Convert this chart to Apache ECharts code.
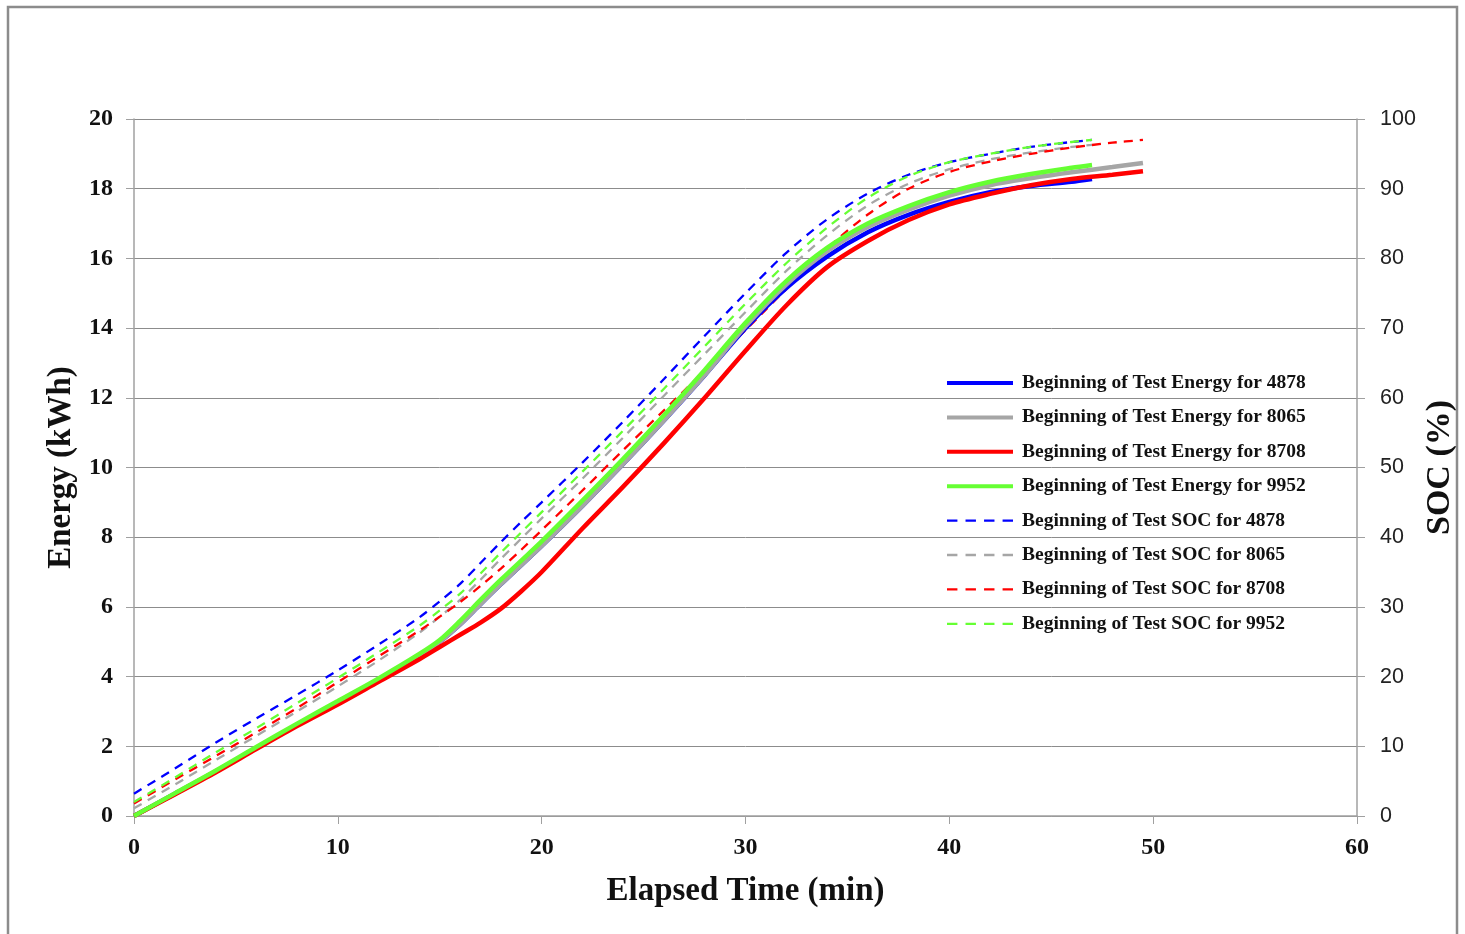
<!DOCTYPE html>
<html>
<head>
<meta charset="utf-8">
<title>Energy and SOC vs Elapsed Time</title>
<script src="https://cdn.jsdelivr.net/npm/echarts@6/dist/echarts.min.js"></script>
<style>
  html, body { margin: 0; padding: 0; background: #fff; }
  #chart { width: 1465px; height: 934px; }
</style>
</head>
<body>
<div id="chart"></div>
<script>
// elapsed time (min) samples
const time47 = [0, 2, 4, 6, 8, 10, 12, 14, 15, 16, 17, 18, 19, 20, 22, 24, 26, 28, 30, 32, 34, 36, 38, 40, 42, 44, 46, 47];
const time49 = [0, 2, 4, 6, 8, 10, 12, 14, 15, 16, 17, 18, 19, 20, 22, 24, 26, 28, 30, 32, 34, 36, 38, 40, 42, 44, 46, 48, 49.5];

// energy (kWh)
const energy4878 = [0, 0.64, 1.28, 1.95, 2.62, 3.27, 3.92, 4.6, 5.0, 5.5, 6.08, 6.65, 7.2, 7.75, 8.9, 10.1, 11.35, 12.65, 14.0, 15.15, 16.05, 16.75, 17.25, 17.62, 17.9, 18.08, 18.2, 18.28];
const energy8065 = [0, 0.64, 1.28, 1.95, 2.62, 3.27, 3.92, 4.6, 5.0, 5.5, 6.08, 6.65, 7.2, 7.75, 8.9, 10.1, 11.35, 12.65, 14.05, 15.25, 16.2, 16.9, 17.4, 17.8, 18.1, 18.3, 18.47, 18.62, 18.74];
const energy8708 = [0, 0.62, 1.25, 1.92, 2.58, 3.2, 3.85, 4.5, 4.85, 5.2, 5.55, 5.95, 6.45, 7.0, 8.25, 9.45, 10.7, 12.0, 13.35, 14.65, 15.75, 16.5, 17.1, 17.55, 17.85, 18.1, 18.28, 18.4, 18.5];
const energy9952 = [0, 0.65, 1.3, 1.98, 2.65, 3.3, 3.95, 4.65, 5.05, 5.6, 6.2, 6.78, 7.33, 7.88, 9.05, 10.25, 11.5, 12.8, 14.15, 15.35, 16.3, 17.0, 17.5, 17.9, 18.2, 18.42, 18.6, 18.68];

// state of charge (%)
const soc4878 = [3.2, 6.8, 10.5, 14.0, 17.4, 20.9, 24.6, 28.5, 30.8, 33.3, 36.3, 39.3, 42.2, 45.0, 50.7, 56.6, 62.7, 68.9, 75.0, 80.8, 85.6, 89.3, 92.0, 93.8, 95.0, 96.0, 96.7, 97.0];
const soc8065 = [1.1, 4.5, 8.0, 11.5, 15.0, 18.6, 22.3, 26.3, 28.6, 31.0, 33.9, 36.9, 39.8, 42.7, 48.4, 54.3, 60.3, 66.3, 72.3, 78.2, 83.3, 87.6, 90.7, 92.8, 94.2, 95.2, 96.0, 96.3];
const soc8708 = [1.8, 5.2, 8.6, 12.0, 15.5, 19.2, 22.9, 26.6, 28.6, 30.7, 33.0, 35.5, 38.2, 41.0, 46.7, 52.5, 58.2, 63.9, 69.7, 75.6, 81.4, 86.3, 90.0, 92.4, 93.9, 95.0, 95.9, 96.6, 97.0];
const soc9952 = [2.0, 5.5, 9.1, 12.6, 16.2, 19.8, 23.5, 27.3, 29.5, 31.9, 34.8, 37.8, 40.7, 43.6, 49.4, 55.3, 61.3, 67.4, 73.5, 79.3, 84.4, 88.7, 91.8, 93.8, 95.0, 96.0, 96.7, 97.0];

const vehicleIds = ['4878', '8065', '8708', '9952'];
const colors = ['#0000ff', '#a6a6a6', '#ff0000', '#66ff33'];

function pairs(ts, vs) {
  return ts.map(function (t, i) { return [t, vs[i]]; });
}

const energyData = [pairs(time47, energy4878), pairs(time49, energy8065), pairs(time49, energy8708), pairs(time47, energy9952)];
const socData = [pairs(time47, soc4878), pairs(time47, soc8065), pairs(time49, soc8708), pairs(time47, soc9952)];

const serif = 'Liberation Serif';
const series = [];
const legendData = [];

vehicleIds.forEach(function (id, i) {
  const name = 'Beginning of Test Energy for ' + id;
  series.push({
    name: name,
    type: 'line',
    yAxisIndex: 0,
    data: energyData[i],
    smooth: 0.3,
    symbol: 'none',
    lineStyle: { color: colors[i], width: 4.5 },
    itemStyle: { color: colors[i] },
    z: 3
  });
  legendData.push({ name: name, icon: 'path://M0,8 L66,8 L66,12 L0,12 Z', itemStyle: { color: colors[i] } });
});

vehicleIds.forEach(function (id, i) {
  const name = 'Beginning of Test SOC for ' + id;
  series.push({
    name: name,
    type: 'line',
    yAxisIndex: 1,
    data: socData[i],
    smooth: 0.3,
    symbol: 'none',
    lineStyle: { color: colors[i], width: 2.3, type: [9, 7] },
    itemStyle: { color: colors[i] },
    z: 2
  });
  //虚线图例
  legendData.push({ name: name, icon: 'path://M0,9 L9,9 L9,11 L0,11 Z M16,9 L25,9 L25,11 L16,11 Z M32,9 L41,9 L41,11 L32,11 Z M48,9 L57,9 L57,11 L48,11 Z', itemStyle: { color: colors[i] } });
});

const myChart = echarts.init(document.getElementById('chart'));
myChart.setOption({
  backgroundColor: '#fff',
  animation: false,
  //外框
  graphic: [{
    type: 'rect',
    shape: { x: 8, y: 7, width: 1449, height: 940 },
    style: { fill: 'none', stroke: '#8c8c8c', lineWidth: 2.5 },
    z: -1
  }],
  grid: { left: 134, right: 108, top: 119, bottom: 118, outerBoundsMode: 'none' },
  legend: {
    orient: 'vertical',
    left: 942,
    top: 368,
    itemGap: 14.4,
    itemWidth: 66,
    itemHeight: 20,
    data: legendData,
    textStyle: { fontFamily: serif, fontWeight: 'bold', fontSize: 19.5, color: '#111', padding: [0, 0, 0, 4] }
  },
  xAxis: {
    type: 'value',
    min: 0,
    max: 60,
    interval: 10,
    name: 'Elapsed Time (min)',
    nameLocation: 'middle',
    nameGap: 59,
    nameTextStyle: { fontFamily: serif, fontWeight: 'bold', fontSize: 33, color: '#111' },
    axisLine: { show: true, lineStyle: { color: '#a0a0a0', width: 1.5 } },
    axisTick: { show: true, length: 8, lineStyle: { color: '#a0a0a0' } },
    axisLabel: { margin: 20, fontFamily: serif, fontWeight: 'bold', fontSize: 24, color: '#111' },
    splitLine: { show: false }
  },
  yAxis: [{
    type: 'value',
    min: 0,
    max: 20,
    interval: 2,
    name: 'Energy (kWh)',
    nameLocation: 'middle',
    nameGap: 56,
    nameTextStyle: { fontFamily: serif, fontWeight: 'bold', fontSize: 33, color: '#111' },
    axisLine: { show: true, lineStyle: { color: '#a0a0a0', width: 1.5 } },
    axisTick: { show: true, length: 8, lineStyle: { color: '#a0a0a0' } },
    axisLabel: { margin: 21, fontFamily: serif, fontWeight: 'bold', fontSize: 24, color: '#111' },
    splitLine: { show: true, lineStyle: { color: '#8c8c8c', width: 1 } }
  }, {
    type: 'value',
    min: 0,
    max: 100,
    interval: 10,
    position: 'right',
    name: 'SOC (%)',
    nameLocation: 'middle',
    nameGap: 66,
    nameRotate: 90,
    nameMoveOverlap: false,
    nameTextStyle: { fontFamily: serif, fontWeight: 'bold', fontSize: 34, color: '#111' },
    axisLine: { show: true, lineStyle: { color: '#a0a0a0', width: 1.5 } },
    axisTick: { show: true, length: 8, lineStyle: { color: '#a0a0a0' } },
    axisLabel: { margin: 23, fontFamily: 'Liberation Sans', fontSize: 21.5, color: '#222' },
    splitLine: { show: false }
  }],
  series: series
});
</script>
</body>
</html>
